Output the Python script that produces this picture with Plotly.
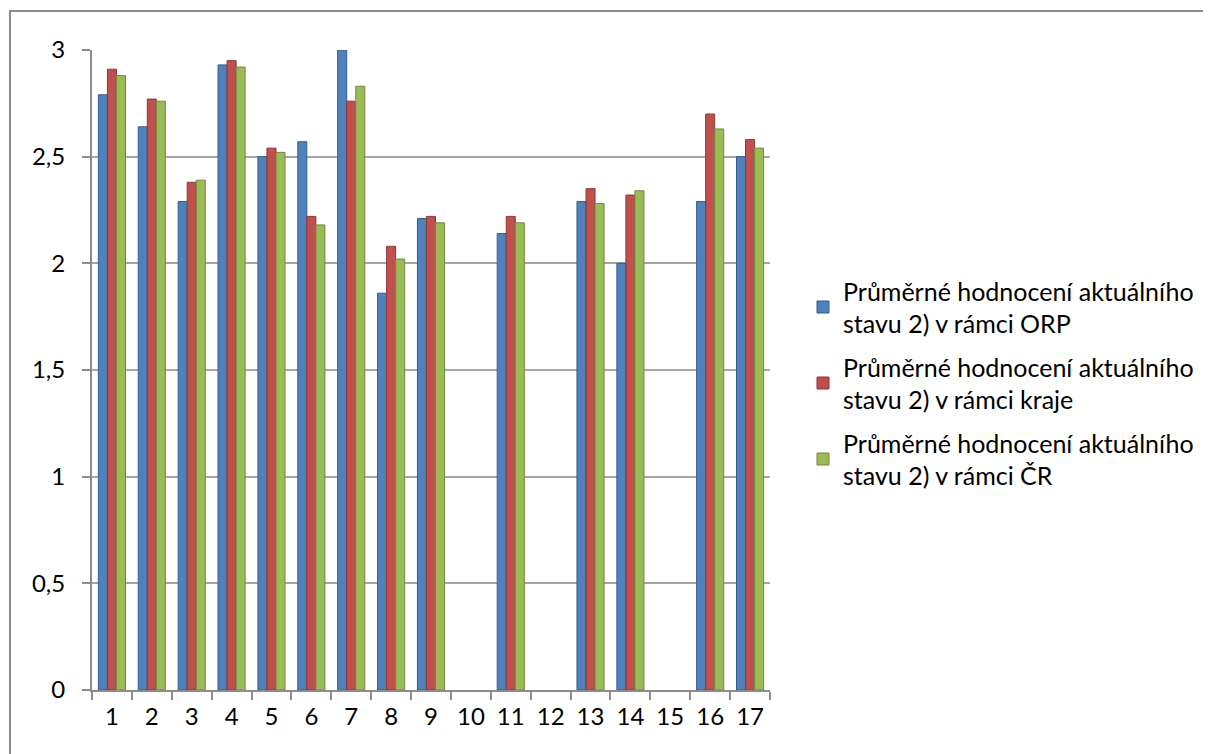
import plotly.graph_objects as go

# Data
categories = [str(i) for i in range(1, 18)]
orp = [2.79, 2.64, 2.29, 2.93, 2.50, 2.57, 3.00, 1.86, 2.21, None, 2.14, None, 2.29, 2.00, None, 2.29, 2.50]
kraj = [2.91, 2.77, 2.38, 2.95, 2.54, 2.22, 2.76, 2.08, 2.22, None, 2.22, None, 2.35, 2.32, None, 2.70, 2.58]
cr = [2.88, 2.76, 2.39, 2.92, 2.52, 2.18, 2.83, 2.02, 2.19, None, 2.19, None, 2.28, 2.34, None, 2.63, 2.54]

names = [
    "Průměrné hodnocení aktuálního<br>stavu 2) v rámci ORP",
    "Průměrné hodnocení aktuálního<br>stavu 2) v rámci kraje",
    "Průměrné hodnocení aktuálního<br>stavu 2) v rámci ČR",
]
colors = ["#4f81bd", "#c0504d", "#9bbb59"]
edges = ["#385d8a", "#8c3836", "#71893f"]

fig = go.Figure()
for i, (vals, name, col, edge) in enumerate(zip([orp, kraj, cr], names, colors, edges)):
    fig.add_trace(go.Bar(x=categories, y=vals, name=name, legendgroup=f"g{i}",
                         marker=dict(color=col, line=dict(color=edge, width=1))))

# page body has an 8px margin, so work in shifted pixel coordinates
off = 8
W, H = 1211 - off, 754 - off
left, right, top, bottom = 92 - off, 770 - off, 50 - off, 690 - off

def px_x(p):
    return (p - off - left) / (right - left)

def px_y(p):
    return (bottom - (p - off)) / (bottom - top)

fig.update_layout(
    width=W, height=H,
    margin=dict(l=left, r=W - right, t=top, b=H - bottom, autoexpand=False),
    paper_bgcolor="white", plot_bgcolor="white",
    barmode="group", bargap=0.32, bargroupgap=0,
    font=dict(family="Lato, Liberation Sans, sans-serif", size=24, color="black"),
    legend=dict(x=px_x(803), y=px_y(268), xanchor="left", yanchor="top",
                font=dict(size=25), tracegroupgap=8, itemwidth=30),
    showlegend=True,
    separators=", ",
    shapes=[dict(type="rect", xref="paper", yref="paper",
                 x0=px_x(10), x1=px_x(1208), y0=px_y(760), y1=px_y(11),
                 line=dict(color="#8c8c8c", width=2), layer="below")],
)
fig.update_xaxes(type="category", showline=True, linecolor="#8c8c8c", linewidth=2,
                 ticks="outside", tickson="boundaries", ticklen=8, tickcolor="#8c8c8c",
                 tickwidth=2, tickfont=dict(size=24), showgrid=False,
                 ticklabelstandoff=4)
fig.update_yaxes(range=[0, 3], dtick=0.5, showline=True, linecolor="#8c8c8c", linewidth=2,
                 ticks="outside", ticklen=8, tickcolor="#8c8c8c", tickwidth=2,
                 showgrid=True, gridcolor="#a6a6a6", gridwidth=2,
                 tickfont=dict(size=24), ticklabelstandoff=12)

fig.write_html("out.html")
